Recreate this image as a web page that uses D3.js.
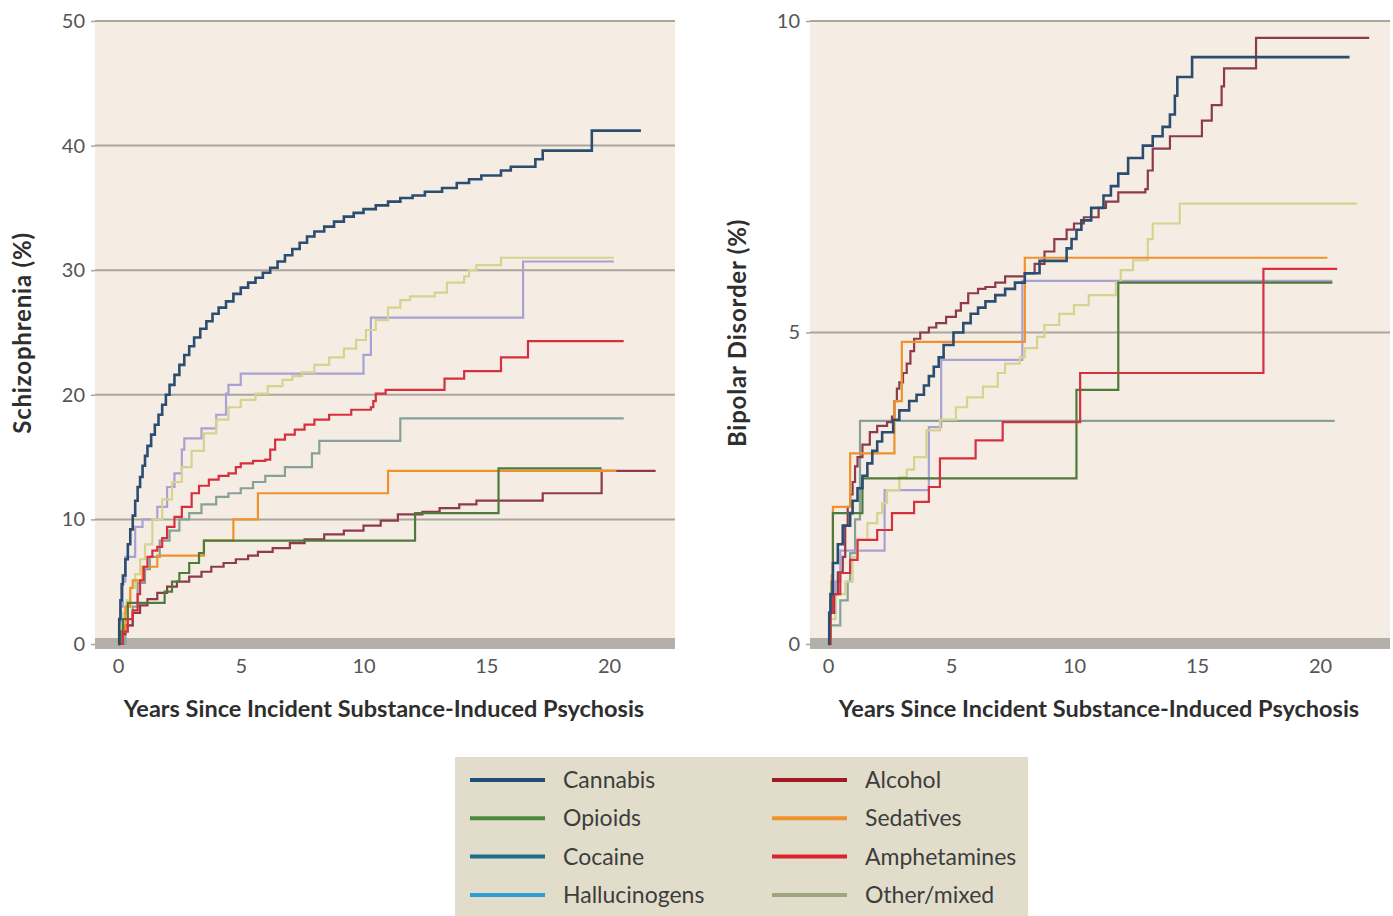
<!DOCTYPE html>
<html>
<head>
<meta charset="utf-8">
<script src="https://cdn.jsdelivr.net/npm/d3@7"></script>
<style>
  html, body { margin: 0; padding: 0; background: #ffffff; }
  svg { display: block; }
  text { font-family: Lato, "Open Sans", sans-serif; }
</style>
</head>
<body>
<svg id="chart" width="1393" height="916"></svg>
<script>
// Substance groups, in legend order
const substances = ["Cannabis", "Opioids", "Cocaine", "Hallucinogens", "Alcohol", "Sedatives", "Amphetamines", "Other/mixed"];
const legendColors = ["#1f4e79", "#4b8a3d", "#1f6e8c", "#2a9fd6", "#9e1b22", "#f0912c", "#d9242f", "#9fa57b"];
const lineColors = ["#2b4d6f", "#4f7a3b", "#86a198", "#a8a2d4", "#8d3a4b", "#f0922b", "#d6303f", "#d6d38f"];
const drawOrder = ["Cocaine", "Hallucinogens", "Other/mixed", "Alcohol", "Sedatives", "Opioids", "Amphetamines", "Cannabis"];

const xTicks = [0, 5, 10, 15, 20];
const schizTicks = [0, 10, 20, 30, 40, 50];
const bipolarTicks = [0, 5, 10];

// Cumulative incidence of schizophrenia (%), [years, percent]
const schizCannabis = [[0,0],[0.05,2],[0.1,3.5],[0.15,4.8],[0.2,5.5],[0.3,6.8],[0.4,8],[0.5,9.2],[0.6,10.3],[0.7,11.5],[0.8,12.6],[0.9,13.4],[1.0,14.3],[1.1,15.1],[1.2,15.9],[1.35,16.8],[1.5,17.6],[1.65,18.4],[1.8,19.2],[1.95,20],[2.1,20.8],[2.3,21.6],[2.5,22.4],[2.7,23.2],[2.9,23.9],[3.1,24.6],[3.35,25.3],[3.6,25.9],[3.85,26.5],[4.1,27],[4.4,27.5],[4.7,28.1],[5.0,28.6],[5.3,29.0],[5.6,29.4],[5.9,29.8],[6.2,30.2],[6.5,30.7],[6.8,31.2],[7.1,31.7],[7.4,32.2],[7.7,32.7],[8.0,33.1],[8.4,33.5],[8.8,33.9],[9.2,34.3],[9.6,34.6],[10.0,34.9],[10.5,35.2],[11.0,35.5],[11.5,35.8],[12.0,36.0],[12.5,36.3],[13.2,36.6],[13.8,37.0],[14.3,37.3],[14.8,37.6],[15.6,38.0],[16.0,38.3],[17.0,38.9],[17.3,39.6],[19.3,41.2],[21.3,41.2]];
const schizOpioids = [[0,0],[0.1,1],[0.2,2],[0.4,3.3],[1.6,3.3],[1.9,4.2],[2.2,5],[2.5,5.7],[2.9,6.5],[3.3,7.3],[3.5,8.3],[12.1,10.5],[15.5,14.1],[19.7,14.1]];
const schizCocaine = [[0,0],[0.3,1.5],[0.6,3],[0.8,4.9],[1.1,6],[1.3,7],[1.7,8.3],[2.1,9.1],[2.5,10],[2.9,10.5],[3.4,11.2],[4.0,11.8],[4.5,12.1],[5.0,12.5],[5.5,13],[6.0,13.5],[6.8,14.2],[7.9,15.3],[8.2,16.3],[11.5,18.1],[20.6,18.1]];
const schizHallucinogens = [[0,0],[0.1,3],[0.2,5],[0.3,7],[0.7,9.4],[1.0,10],[1.6,11],[2.0,12.6],[2.3,13.7],[2.6,15.6],[2.7,16.5],[3.4,17.3],[4.0,18.4],[4.4,20.1],[4.5,20.8],[5.0,21.7],[10.0,23.2],[10.3,26.2],[16.5,30.7],[20.2,30.7]];
const schizAlcohol = [[0,0],[0.1,0.8],[0.3,1.5],[0.6,2.5],[0.9,3.1],[1.2,3.6],[1.6,4.1],[2.0,4.6],[2.4,5.0],[2.9,5.4],[3.4,5.8],[3.8,6.2],[4.3,6.5],[4.8,6.8],[5.3,7.1],[5.7,7.4],[6.3,7.7],[7.0,8.1],[7.6,8.4],[8.4,8.8],[9.2,9.1],[10.0,9.5],[10.7,9.9],[11.4,10.4],[12.4,10.6],[13.1,10.9],[13.9,11.2],[14.6,11.5],[17.3,12.1],[19.7,13.9],[21.9,13.9]];
const schizSedatives = [[0,0],[0.1,1],[0.3,3],[0.5,4.5],[0.6,5.1],[1.0,6.2],[1.6,7.1],[3.5,8.3],[4.7,10],[5.7,12.1],[11.0,13.9],[20.3,13.9]];
const schizAmphetamines = [[0,0],[0.2,1],[0.4,2],[0.6,2.7],[0.8,4],[0.9,5.1],[1.05,6.2],[1.2,7],[1.4,7.5],[1.6,7.8],[1.8,8.5],[2.0,9.4],[2.3,10.2],[2.6,11],[3.0,12.1],[3.3,12.7],[3.7,13.2],[4.1,13.5],[4.5,13.7],[4.8,14.2],[5.0,14.5],[5.5,14.7],[6.0,14.8],[6.2,15.6],[6.4,16.4],[6.8,16.8],[7.2,17.2],[7.6,17.6],[8.0,18.0],[8.6,18.4],[9.5,18.8],[10.3,19.0],[10.4,19.5],[10.5,20.1],[10.9,20.4],[13.3,21.3],[14.1,21.9],[15.6,23.0],[16.7,24.3],[20.6,24.3]];
const schizOther = [[0,0],[0.1,1.5],[0.2,2.5],[0.35,3.5],[0.5,4.5],[0.7,5.6],[0.9,6.8],[1.1,8],[1.4,10],[1.8,11.6],[2.2,13],[2.6,14.2],[3.0,15.5],[3.5,16.9],[4.0,18],[4.5,19.0],[5.0,19.6],[5.6,20.1],[6.1,20.7],[6.7,21.2],[7.1,21.5],[7.5,21.8],[8.0,22.4],[8.6,23.0],[9.2,23.7],[9.7,24.4],[10.1,25.2],[10.5,26.0],[11.0,27.0],[11.5,27.6],[11.9,27.9],[12.9,28.2],[13.4,29.0],[14.1,29.5],[14.3,30.0],[14.6,30.4],[15.6,31.0],[20.2,31.0]];

// Cumulative incidence of bipolar disorder (%), [years, percent]
const bipCannabis = [[0,0],[0.05,0.5],[0.1,0.8],[0.2,1.3],[0.4,1.6],[0.6,1.9],[0.9,2.1],[1.0,2.3],[1.2,2.5],[1.4,2.7],[1.6,2.9],[1.8,3.1],[2.0,3.25],[2.2,3.4],[2.65,3.6],[2.9,3.75],[3.3,3.9],[3.6,4.0],[3.9,4.15],[4.1,4.3],[4.3,4.45],[4.5,4.6],[4.7,4.8],[5.1,5.0],[5.5,5.15],[5.8,5.3],[6.1,5.4],[6.4,5.5],[6.8,5.6],[7.2,5.7],[7.6,5.8],[8.0,5.95],[8.6,6.15],[9.7,6.35],[9.9,6.5],[10.1,6.65],[10.3,6.8],[10.7,7.0],[11.2,7.2],[11.5,7.35],[11.8,7.55],[12.2,7.8],[12.8,8.0],[13.2,8.15],[13.6,8.3],[13.9,8.5],[14.1,8.8],[14.2,9.1],[14.8,9.42],[21.2,9.42]];
const bipOpioids = [[0,0],[0.05,0.5],[0.15,1.0],[0.2,2.1],[1.4,2.66],[10.1,4.08],[11.8,5.8],[20.5,5.8]];
const bipCocaine = [[0,0],[0.1,0.3],[0.5,0.7],[0.8,1.0],[0.9,1.46],[1.1,2.0],[1.3,3.58],[20.6,3.58]];
const bipHallucinogens = [[0,0],[0.1,0.5],[0.3,1.0],[0.5,1.5],[2.3,2.47],[4.1,3.48],[4.6,4.56],[7.9,5.83],[20.5,5.83]];
const bipAlcohol = [[0,0],[0.1,0.5],[0.25,0.8],[0.4,1.15],[0.6,1.4],[0.7,1.9],[0.8,2.2],[0.9,2.4],[1.0,2.6],[1.1,2.85],[1.2,3.0],[1.4,3.2],[1.7,3.4],[2.0,3.5],[2.4,3.56],[2.6,3.65],[2.7,3.9],[2.8,4.1],[2.9,4.2],[3.05,4.35],[3.2,4.5],[3.35,4.7],[3.5,4.9],[3.75,5.0],[4.1,5.08],[4.4,5.15],[4.8,5.25],[5.2,5.35],[5.4,5.47],[5.7,5.63],[6.1,5.7],[6.4,5.73],[6.8,5.8],[7.2,5.9],[8.0,5.95],[8.4,6.1],[8.8,6.3],[9.2,6.5],[9.7,6.65],[10.0,6.75],[10.4,6.85],[11.0,7.0],[11.3,7.1],[11.8,7.25],[12.9,7.3],[13.0,7.6],[13.2,7.95],[13.9,8.15],[15.2,8.4],[15.6,8.65],[16.0,8.95],[16.1,9.24],[17.4,9.73],[22.0,9.73]];
const bipSedatives = [[0,0],[0.1,0.7],[0.15,1.1],[0.2,2.2],[0.9,3.06],[2.7,3.9],[3.0,4.85],[8.0,6.2],[20.3,6.2]];
const bipAmphetamines = [[0,0],[0.1,0.5],[0.2,0.8],[0.5,1.14],[0.9,1.35],[1.2,1.67],[2.0,1.83],[2.6,2.1],[3.5,2.28],[4.1,2.52],[4.55,2.98],[6.0,3.27],[7.1,3.56],[10.25,4.35],[17.7,6.02],[20.7,6.02]];
const bipOther = [[0,0],[0.1,0.4],[0.3,0.8],[0.7,1.0],[1.0,1.4],[1.2,1.67],[1.6,1.94],[2.0,2.1],[2.2,2.26],[2.4,2.47],[2.9,2.68],[3.2,2.8],[3.5,3.0],[4.0,3.43],[4.55,3.6],[5.2,3.8],[5.65,3.96],[6.3,4.13],[6.9,4.35],[7.2,4.5],[7.8,4.6],[8.0,4.75],[8.5,4.93],[8.8,5.12],[9.4,5.3],[10.0,5.44],[10.6,5.6],[11.7,5.8],[11.9,6.0],[12.4,6.16],[13.0,6.5],[13.2,6.75],[14.3,7.07],[21.5,7.07]];

const schizSeries = [schizCannabis, schizOpioids, schizCocaine, schizHallucinogens, schizAlcohol, schizSedatives, schizAmphetamines, schizOther];
const bipSeries = [bipCannabis, bipOpioids, bipCocaine, bipHallucinogens, bipAlcohol, bipSedatives, bipAmphetamines, bipOther];

const svg = d3.select("#chart");

function drawPanel(cfg) {
  const g = svg.append("g");
  const x = d3.scaleLinear().domain([0, 20]).range([cfg.x0, cfg.x20]);
  const y = d3.scaleLinear().domain([0, cfg.yMax]).range([644, 21]);

  // plot background
  g.append("rect")
    .attr("x", cfg.left).attr("y", y(cfg.yMax) - 1)
    .attr("width", cfg.right - cfg.left).attr("height", 650 - y(cfg.yMax))
    .attr("fill", "#f5ede4");

  // horizontal gridlines
  g.selectAll(".grid").data(cfg.ticks.filter(d => d > 0)).join("line")
    .attr("x1", cfg.left).attr("x2", cfg.right)
    .attr("y1", d => y(d)).attr("y2", d => y(d))
    .attr("stroke", "#aca59c").attr("stroke-width", 2);

  // baseline band
  g.append("rect")
    .attr("x", cfg.left).attr("y", 638)
    .attr("width", cfg.right - cfg.left).attr("height", 11)
    .attr("fill", "#b3afa9");

  // y axis
  const yAxis = g.append("g")
    .attr("transform", `translate(${cfg.left},0)`)
    .call(d3.axisLeft(y).tickValues(cfg.ticks).tickSize(4).tickPadding(6).tickFormat(d3.format("d")));
  yAxis.select(".domain").remove();
  yAxis.selectAll(".tick line").attr("stroke", "#aaa49c").attr("stroke-width", 1.5);
  yAxis.selectAll(".tick text").attr("fill", "#555").attr("font-size", 20).attr("font-family", "Lato");

  // x axis
  const xAxis = g.append("g")
    .attr("transform", `translate(0,651)`)
    .call(d3.axisBottom(x).tickValues(xTicks).tickSize(0).tickPadding(8).tickFormat(d3.format("d")));
  xAxis.select(".domain").remove();
  xAxis.selectAll(".tick text").attr("fill", "#555").attr("font-size", 20).attr("font-family", "Lato");

  // axis titles
  g.append("text")
    .attr("x", (cfg.left + cfg.right) / 2 - 1).attr("y", 717)
    .attr("text-anchor", "middle")
    .attr("font-size", 23.5).attr("font-weight", 700).attr("fill", "#2e2e2e")
    .text("Years Since Incident Substance-Induced Psychosis");
  g.append("text")
    .attr("transform", `translate(${cfg.titleX},333) rotate(-90)`)
    .attr("text-anchor", "middle")
    .attr("font-size", 24).attr("font-weight", 700).attr("fill", "#2e2e2e")
    .attr("letter-spacing", 0.8)
    .text(cfg.yTitle);

  // cumulative incidence step curves
  const line = d3.line()
    .x(d => x(d[0])).y(d => y(d[1]))
    .curve(d3.curveStepAfter);
  drawOrder.forEach(name => {
    const i = substances.indexOf(name);
    g.append("path")
      .datum(cfg.series[i])
      .attr("d", line)
      .attr("fill", "none")
      .attr("stroke", lineColors[i])
      .attr("stroke-width", name === "Cannabis" ? 2.6 : 2.2)
      .attr("stroke-linejoin", "miter");
  });
}

drawPanel({ left: 95, right: 675, x0: 118, x20: 609, yMax: 50, ticks: schizTicks,
            series: schizSeries, yTitle: "Schizophrenia (%)", titleX: 31 });
drawPanel({ left: 810, right: 1390, x0: 828, x20: 1320, yMax: 10, ticks: bipolarTicks,
            series: bipSeries, yTitle: "Bipolar Disorder (%)", titleX: 746 });

// legend
const legend = svg.append("g");
legend.append("rect")
  .attr("x", 455).attr("y", 757).attr("width", 573).attr("height", 159)
  .attr("fill", "#e2ddcb");
const rows = 4;
substances.forEach((name, i) => {
  const col = Math.floor(i / rows), row = i % rows;
  const lx = col === 0 ? 470 : 772;
  const ly = 780 + row * 38.3;
  legend.append("line")
    .attr("x1", lx).attr("x2", lx + 75)
    .attr("y1", ly).attr("y2", ly)
    .attr("stroke", legendColors[i]).attr("stroke-width", 4);
  legend.append("text")
    .attr("x", lx + 93).attr("y", ly)
    .attr("dy", "0.35em")
    .attr("font-size", 23).attr("fill", "#3d3d3d")
    .text(name);
});
</script>
</body>
</html>
